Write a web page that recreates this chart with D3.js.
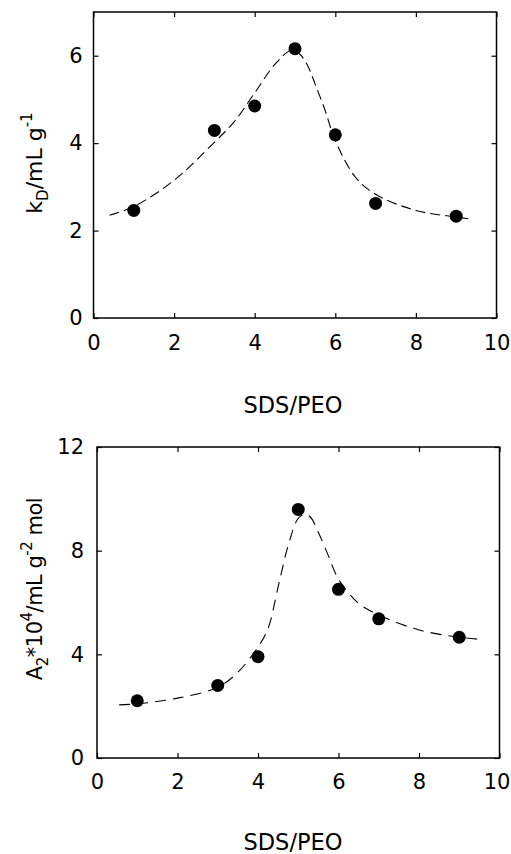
<!DOCTYPE html>
<html>
<head>
<meta charset="utf-8">
<script src="https://cdn.jsdelivr.net/npm/d3@7"></script>
<style>
  body { margin: 0; background: #fff; }
  svg { display: block; }
  text { font-family: "DejaVu Sans", "Liberation Sans", Arial, sans-serif; fill: #000; }
</style>
</head>
<body>
<div id="playground"></div>
<script>
// measured points, x = SDS/PEO
var ratio = [1, 3, 4, 5, 6, 7, 9];
var kD = [2.46, 4.29, 4.85, 6.16, 4.19, 2.62, 2.33];
var A2 = [2.21, 2.80, 3.91, 9.59, 6.51, 5.37, 4.66];

// dashed guide curves
var kDCurveX = [0.4, 1, 2, 3, 3.5, 4, 4.5, 4.9, 5.1, 5.3, 5.5, 5.75, 6, 6.5, 7, 8, 9, 9.3];
var kDCurveY = [2.35, 2.55, 3.15, 4.02, 4.5, 5.15, 5.8, 6.12, 6.05, 5.8, 5.35, 4.74, 4.06, 3.22, 2.83, 2.46, 2.31, 2.27];
var A2CurveX = [0.55, 1, 2, 3, 3.5, 4, 4.25, 4.5, 4.75, 5, 5.15, 5.3, 5.5, 5.75, 6, 6.5, 7, 8, 9, 9.5];
var A2CurveY = [2.05, 2.09, 2.31, 2.73, 3.31, 4.28, 5.0, 6.6, 8.2, 9.25, 9.4, 9.3, 8.7, 7.8, 6.9, 5.97, 5.52, 4.94, 4.66, 4.58];

var xTicks = [0, 2, 4, 6, 8, 10];
var kDTicks = [0, 2, 4, 6];
var A2Ticks = [0, 4, 8, 12];

var svg = d3.select("#playground").append("svg")
    .attr("width", 511)
    .attr("height", 854);

function drawPanel(opt) {
    var x = d3.scaleLinear().domain([0, 10]).range([opt.left, opt.right]);
    var y = d3.scaleLinear().domain([0, opt.ymax]).range([opt.bottom, opt.top]);
    var fmt = d3.format("d");
    var g = svg.append("g");

    // frame
    g.append("rect")
        .attr("x", opt.left).attr("y", opt.top)
        .attr("width", opt.right - opt.left)
        .attr("height", opt.bottom - opt.top)
        .attr("fill", "none").attr("stroke", "#000").attr("stroke-width", 1.5);

    g.append("g").attr("class", "xb").attr("transform", "translate(0," + opt.bottom + ")")
        .call(d3.axisBottom(x).tickValues(xTicks).tickFormat(fmt).tickSizeInner(-5).tickSizeOuter(0).tickPadding(opt.xpad));
    g.append("g").attr("transform", "translate(0," + opt.top + ")")
        .call(d3.axisTop(x).tickValues(xTicks).tickSizeInner(-5).tickSizeOuter(0).tickFormat(""));
    g.append("g").attr("transform", "translate(" + opt.left + ",0)")
        .call(d3.axisLeft(y).tickValues(opt.yticks).tickFormat(fmt).tickSizeInner(-5).tickSizeOuter(0).tickPadding(opt.ypad));
    g.append("g").attr("transform", "translate(" + opt.right + ",0)")
        .call(d3.axisRight(y).tickValues(opt.yticks).tickSizeInner(-5).tickSizeOuter(0).tickFormat(""));

    g.selectAll(".domain").remove();
    g.selectAll(".tick line").attr("stroke", "#000").attr("stroke-width", 1.2);
    g.selectAll(".tick text")
        .style("font-family", "DejaVu Sans, sans-serif")
        .style("font-size", "21px");
    // keep the "10" inside the page edge
    g.selectAll(".xb .tick text").filter(function(d) { return d === 10; })
        .attr("dx", opt.lastDx);

    // dashed curve
    var pts = opt.cx.map(function(v, i) { return [v, opt.cy[i]]; });
    var line = d3.line()
        .x(function(d) { return x(d[0]); })
        .y(function(d) { return y(d[1]); })
        .curve(d3.curveCatmullRom);
    g.append("path")
        .attr("d", line(pts))
        .attr("fill", "none")
        .attr("stroke", "#000")
        .attr("stroke-width", 1.1)
        .attr("stroke-dasharray", opt.dash);

    g.selectAll("circle.pt")
        .data(ratio)
        .enter().append("circle")
        .attr("class", "pt")
        .attr("cx", function(d) { return x(d); })
        .attr("cy", function(d, i) { return y(opt.vals[i]); })
        .attr("r", 6.5)
        .attr("fill", "#000");

    // x label
    g.append("text")
        .attr("x", 293)
        .attr("y", opt.xlabelY)
        .attr("text-anchor", "middle")
        .style("font-size", "22.5px")
        .text("SDS/PEO");

    return g;
}

drawPanel({
    left: 93.5, right: 496.5, top: 12, bottom: 318, ymax: 7,
    yticks: kDTicks, vals: kD, cx: kDCurveX, cy: kDCurveY,
    xpad: 17, ypad: 11, xlabelY: 413, lastDx: 0, dash: "10,5"
});

drawPanel({
    left: 97, right: 499.5, top: 447, bottom: 758, ymax: 12,
    yticks: A2Ticks, vals: A2, cx: A2CurveX, cy: A2CurveY,
    xpad: 16, ypad: 13, xlabelY: 850, lastDx: -3, dash: "11,7"
});

// y labels with sub/superscripts
var lab1 = svg.append("text")
    .attr("transform", "translate(42,163) rotate(-90)")
    .attr("text-anchor", "middle")
    .style("font-size", "22px");
lab1.append("tspan").text("k");
lab1.append("tspan").attr("dy", 6).style("font-size", "15px").text("D");
lab1.append("tspan").attr("dy", -6).text("/mL g");
lab1.append("tspan").attr("dy", -10).style("font-size", "15px").text("-1");

var lab2 = svg.append("text")
    .attr("transform", "translate(42,589) rotate(-90)")
    .attr("text-anchor", "middle")
    .style("font-size", "21px")
    .style("letter-spacing", "-0.5px");
lab2.append("tspan").text("A");
lab2.append("tspan").attr("dy", 6).style("font-size", "15px").text("2");
lab2.append("tspan").attr("dy", -6).text("*10");
lab2.append("tspan").attr("dy", -10).style("font-size", "15px").text("4");
lab2.append("tspan").attr("dy", 10).text("/mL g");
lab2.append("tspan").attr("dy", -10).style("font-size", "15px").text("-2");
lab2.append("tspan").attr("dy", 10).text(" mol");
</script>
</body>
</html>
